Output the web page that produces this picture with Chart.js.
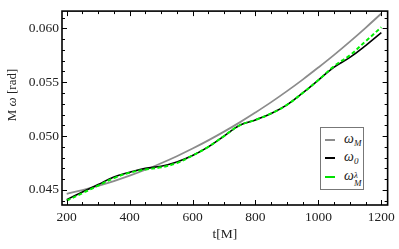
<!DOCTYPE html>
<html>
<head>
<meta charset="utf-8">
<script src="https://cdn.jsdelivr.net/npm/chart.js@4.4.1/dist/chart.umd.min.js"></script>
<style>
  html, body { margin: 0; padding: 0; background: #fff; }
  #wrap { position: relative; width: 399px; height: 249px; }
  #legend {
    position: absolute; left: 320px; top: 127px; width: 42px; height: 61px;
    border: 1px solid #777; background: #fff;
    font-family: "Liberation Serif", serif; font-style: italic; font-size: 14px; color: #222;
  }
  .row { position: absolute; left: 0; height: 16px; width: 42px; }
  .sw { position: absolute; left: 4px; top: 7px; width: 10px; height: 0; }
  .lbl { position: absolute; left: 23px; top: -2px; white-space: nowrap; line-height: 18px; }
  .lbl sub { font-size: 9px; vertical-align: -3px; }
  .stack { display: inline-block; vertical-align: -6px; font-size: 9px; line-height: 8px; }
  .stack span { display: block; }
</style>
</head>
<body>
<div id="wrap">
  <canvas id="chartOmega" width="399" height="249"></canvas>
  <div id="legend">
    <div class="row" style="top:4px"><div class="sw" style="border-top:2px solid #8c8c8c"></div><div class="lbl">ω<sub>M</sub></div></div>
    <div class="row" style="top:22px"><div class="sw" style="border-top:2px solid #000"></div><div class="lbl">ω<sub>0</sub></div></div>
    <div class="row" style="top:41px"><div class="sw" style="border-top:2px dashed #00e000"></div><div class="lbl">ω<span class="stack"><span>λ</span><span>M</span></span></div></div>
  </div>
</div>
<script>
// t [M]
const times = [200, 250, 300, 350, 400, 450, 500, 550, 600, 650, 700,
  750, 800, 850, 900, 950, 1000, 1050, 1100, 1150, 1200];
// M omega [rad]
const omegaM = [0.04464, 0.04498, 0.04538, 0.04582, 0.04632, 0.04687, 0.04748,
  0.04813, 0.04884, 0.04960, 0.05041, 0.05127, 0.05219, 0.05315, 0.05417,
  0.05524, 0.05637, 0.05754, 0.05877, 0.06005, 0.06138];
const omega0 = [0.0441, 0.0448, 0.0455, 0.0462, 0.04663, 0.0470, 0.0472,
  0.0476, 0.0482, 0.0490, 0.0500, 0.0510, 0.0515, 0.0521, 0.0529,
  0.0540, 0.0552, 0.0564, 0.0573, 0.0584, 0.0596];
const omegaLambda = [0.0440, 0.0447, 0.0454, 0.0461, 0.0466, 0.0469, 0.0471,
  0.0475, 0.0482, 0.0490, 0.0500, 0.0510, 0.0515, 0.0521, 0.0529,
  0.0540, 0.0552, 0.0565, 0.0575, 0.0588, 0.0601];

const xTicks = [200, 400, 600, 800, 1000, 1200];
const yTicks = [0.045, 0.050, 0.055, 0.060];
const xMinor = [];
for (let v = 200; v <= 1200; v += 50) xMinor.push(v);
const yMinor = [];
for (let k = 44; k <= 61; k++) yMinor.push(k / 1000);

const serif = '"Liberation Serif", "Times New Roman", serif';

const pts = (ys) => times.map((t, i) => ({ x: t, y: ys[i] }));

// frame + inward ticks, like Mathematica
const framePlugin = {
  id: "frame",
  afterDraw(chart) {
    const { ctx, chartArea: a, scales } = chart;
    const xs = scales.x, ys = scales.y;
    ctx.save();
    ctx.strokeStyle = "#000";
    ctx.lineWidth = 1;
    ctx.beginPath();
    xMinor.forEach((v) => {
      const px = Math.round(xs.getPixelForValue(v)) + 0.5;
      const len = xTicks.includes(v) ? 5 : 3;
      ctx.moveTo(px, a.bottom); ctx.lineTo(px, a.bottom - len);
      ctx.moveTo(px, a.top); ctx.lineTo(px, a.top + len);
    });
    yMinor.forEach((v) => {
      const py = Math.round(ys.getPixelForValue(v)) + 0.5;
      const len = Math.round(v * 1000) % 5 === 0 ? 5 : 3;
      ctx.moveTo(a.left, py); ctx.lineTo(a.left + len, py);
      ctx.moveTo(a.right, py); ctx.lineTo(a.right - len, py);
    });
    ctx.stroke();
    ctx.lineWidth = 1.6;
    ctx.strokeRect(a.left, a.top, a.right - a.left, a.bottom - a.top);

    // y title: "M ω [rad]"
    ctx.translate(13, 95);
    ctx.rotate(-Math.PI / 2);
    ctx.fillStyle = "#222";
    ctx.textBaseline = "middle";
    const parts = [["M ", "13px " + serif], ["ω", "italic 13px " + serif], [" [rad]", "13px " + serif]];
    let w = 0;
    parts.forEach(([s, f]) => { ctx.font = f; w += ctx.measureText(s).width; });
    let x0 = -w / 2;
    parts.forEach(([s, f]) => { ctx.font = f; ctx.fillText(s, x0, 0); x0 += ctx.measureText(s).width; });
    ctx.restore();
  },
};

new Chart(document.getElementById("chartOmega"), {
  type: "line",
  data: {
    datasets: [
      { label: "omegaLambda", data: pts(omegaLambda), borderColor: "#00ee00", borderWidth: 2,
        borderDash: [4, 2.5], order: 0 },
      { label: "omega0", data: pts(omega0), borderColor: "#000", borderWidth: 1.6, order: 1 },
      { label: "omegaM", data: pts(omegaM), borderColor: "#8c8c8c", borderWidth: 1.8, order: 2 },
    ],
  },
  options: {
    responsive: false,
    animation: false,
    layout: { padding: { top: 3, right: 8, left: 0, bottom: 0 } },
    elements: {
      point: { radius: 0 },
      line: { tension: 0.4, fill: false },
    },
    plugins: { legend: { display: false }, tooltip: { enabled: false } },
    scales: {
      x: {
        type: "linear", min: 185, max: 1220,
        afterBuildTicks: (s) => { s.ticks = xTicks.map((v) => ({ value: v })); },
        afterFit: (s) => { s.height = 44; },
        grid: { display: false, drawTicks: false },
        border: { display: false },
        ticks: { color: "#222", padding: 4, maxRotation: 0, font: { family: serif, size: 13.5 },
          callback: (v) => String(v) },
        title: { display: true, text: "t[M]", color: "#222", padding: { top: 0, bottom: 6 },
          font: { family: serif, size: 13.5 } },
      },
      y: {
        type: "linear", min: 0.0436, max: 0.0616,
        afterBuildTicks: (s) => { s.ticks = yTicks.map((v) => ({ value: v })); },
        afterFit: (s) => { s.width = 62; },
        grid: { display: false, drawTicks: false },
        border: { display: false },
        ticks: { color: "#222", padding: 3, font: { family: serif, size: 13.5 },
          callback: (v) => v.toFixed(3) },
      },
    },
  },
  plugins: [framePlugin],
});
</script>
</body>
</html>
